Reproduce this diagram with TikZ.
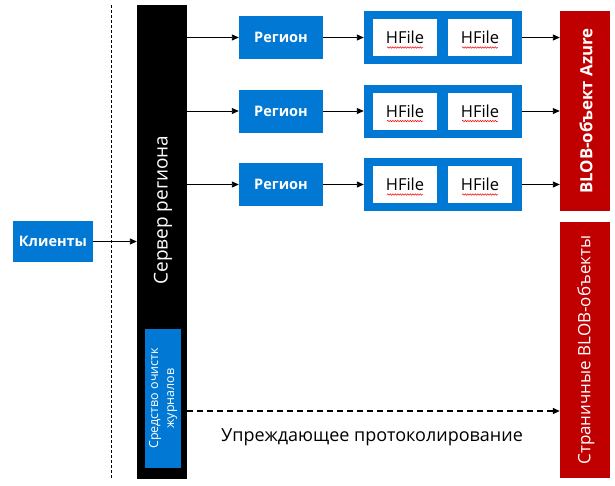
\documentclass[tikz,border=0pt]{standalone}
\usepackage{fontspec}
\setmainfont{Open Sans}
\usetikzlibrary{arrows.meta,decorations.pathmorphing}
\definecolor{azblue}{RGB}{0,120,212}
\definecolor{azred}{RGB}{192,0,0}
\tikzset{
  bluebox/.style={fill=azblue, draw=none, text=white, font=\bfseries\fontsize{14.5}{17}\selectfont, inner sep=0pt},
  redbox/.style={fill=azred, draw=none, inner sep=0pt, minimum width=50pt},
  container/.style={fill=azblue, draw=none, minimum width=158pt, minimum height=53pt, inner sep=0pt},
  hfilebox/.style={fill=white, draw=none, minimum width=64pt, minimum height=37pt, inner sep=0pt, font=\fontsize{16.5}{19}\selectfont},
  arr/.style={-{Triangle[length=7pt,width=6pt]}, line width=0.9pt},
  dasharr/.style={-{Triangle[length=7pt,width=6pt]}, line width=1.5pt, dash pattern=on 6pt off 4pt},
  wavy/.style={red, line width=0.5pt, decorate, decoration={snake, amplitude=0.7pt, segment length=2.5pt}}
}
\begin{document}
\begin{tikzpicture}[x=1pt,y=-1pt]
\useasboundingbox (0,0) rectangle (615,485);
% separator
\draw[dashed, line width=0.7pt, dash pattern=on 3pt off 2pt] (111,5) -- (111,479);
% clients
\node[bluebox, minimum width=80pt, minimum height=41pt] (clients) at (53,241.5) {Клиенты};
% region server bar
\node[fill=black, minimum width=50pt, minimum height=474pt, inner sep=0pt] (bar) at (162,242) {};
\node[rotate=90, text=white, font=\fontsize{19}{22}\selectfont] (srv) at (163,210) {Сервер региона};
\node[fill=azblue, minimum width=36pt, minimum height=139pt, inner sep=0pt] (cleaner) at (163,398.5) {};
\node[rotate=90, text=white, align=center, font=\fontsize{12.5}{16}\selectfont] (cleantxt) at (163,398.5) {Средство очистк\\журналов};
% red boxes
\node[redbox, minimum height=200pt] (blob) at (585,111) {};
\node[rotate=90, text=white, font=\bfseries\fontsize{16.8}{20}\selectfont] (blobtxt) at (586,111) {BLOB-объект Azure};
\node[redbox, minimum height=256pt] (page) at (585,350) {};
\node[rotate=90, text=white, font=\fontsize{17}{20}\selectfont] (pagetxt) at (586,350) {Страничные BLOB-объекты};
% rows
\foreach \i/\y in {1/37.5,2/111,3/184.5}{
  \node[bluebox, minimum width=84pt, minimum height=43pt] (reg\i) at (281,\y) {Регион};
  \node[container] (cont\i) at (443,\y) {};
  \node[hfilebox] (hfa\i) at (405,\y) {HFile};
  \node[hfilebox] (hfb\i) at (480,\y) {HFile};
  \draw[wavy] ([xshift=-18pt,yshift=-10pt]hfa\i.center) -- ([xshift=18pt,yshift=-10pt]hfa\i.center);
  \draw[wavy] ([xshift=-18pt,yshift=-10pt]hfb\i.center) -- ([xshift=18pt,yshift=-10pt]hfb\i.center);
  \draw[arr] (bar.east |- reg\i.west) -- (reg\i.west);
  \draw[arr] (reg\i.east) -- (cont\i.west |- reg\i.east);
  \draw[arr] (cont\i.east) -- (blob.west |- cont\i.east);
}
\draw[arr] (clients.east) -- (bar.west |- clients.east);
% write-ahead log
\coordinate (walstart) at (187,411);
\draw[dasharr] (walstart) -- (page.west |- walstart);
\node[font=\fontsize{18}{21}\selectfont] (wal) at (372,437) {Упреждающее протоколирование};
\end{tikzpicture}
\end{document}
